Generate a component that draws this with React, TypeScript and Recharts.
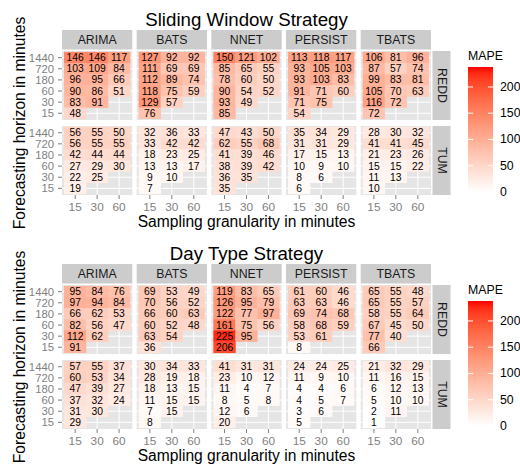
import React from 'react';
import { ScatterChart, Scatter, XAxis, YAxis, ReferenceArea, ReferenceLine } from 'recharts';

// ---------- categories ----------
const methods = ['ARIMA', 'BATS', 'NNET', 'PERSIST', 'TBATS'];
const datasets = ['REDD', 'TUM'];
const horizons = [1440, 720, 180, 60, 30, 15]; // top to bottom
const granularities = [15, 30, 60];
const legendTicks = [0, 50, 100, 150, 200];

// ---------- Sliding Window Strategy (MAPE) ----------
// rows: horizon 1440, 720, 180, 60, 30, 15 ; columns: granularity 15, 30, 60
const swReddArima = [[146, 146, 117], [103, 109, 84], [96, 95, 66], [90, 86, 51], [83, 91], [48]];
const swReddBats = [[127, 92, 92], [111, 69, 69], [112, 89, 74], [118, 75, 59], [129, 57], [76]];
const swReddNnet = [[150, 121, 102], [85, 65, 55], [78, 60, 50], [90, 54, 52], [93, 49], [85]];
const swReddPersist = [[113, 118, 117], [93, 105, 103], [93, 103, 83], [91, 71, 60], [71, 75], [54]];
const swReddTbats = [[106, 81, 96], [87, 57, 74], [99, 83, 81], [105, 70, 63], [116, 72], [72]];

const swTumArima = [[56, 55, 50], [56, 55, 55], [42, 44, 44], [27, 29, 30], [22, 25], [19]];
const swTumBats = [[32, 36, 33], [33, 42, 42], [18, 23, 25], [13, 13, 17], [9, 10], [7]];
const swTumNnet = [[47, 43, 50], [62, 55, 68], [41, 39, 46], [38, 39, 42], [36, 35], [35]];
const swTumPersist = [[35, 34, 29], [31, 31, 29], [17, 15, 13], [10, 9, 10], [8, 6], [6]];
const swTumTbats = [[28, 30, 32], [41, 41, 45], [21, 23, 26], [15, 15, 22], [11, 13], [10]];

// ---------- Day Type Strategy (MAPE) ----------
const dtReddArima = [[95, 84, 76], [97, 94, 84], [66, 62, 53], [82, 56, 47], [112, 62], [91]];
const dtReddBats = [[69, 53, 49], [70, 56, 52], [66, 60, 63], [60, 52, 48], [63, 54], [36]];
const dtReddNnet = [[119, 83, 65], [126, 95, 79], [122, 77, 97], [161, 75, 56], [225, 95], [206]];
const dtReddPersist = [[61, 60, 46], [63, 63, 46], [69, 74, 68], [58, 68, 59], [53, 61], [8]];
const dtReddTbats = [[65, 55, 48], [65, 55, 57], [58, 55, 64], [67, 45, 50], [77, 40], [66]];

const dtTumArima = [[57, 55, 37], [60, 53, 34], [47, 39, 27], [37, 32, 24], [31, 30], [29]];
const dtTumBats = [[30, 34, 33], [28, 19, 18], [18, 13, 15], [11, 15, 15], [7, 15], [8]];
const dtTumNnet = [[41, 31, 31], [23, 10, 12], [11, 4, 7], [8, 5, 8], [12, 6], [20]];
const dtTumPersist = [[24, 24, 25], [11, 9, 10], [4, 4, 6], [4, 5, 7], [3, 6], [5]];
const dtTumTbats = [[21, 32, 29], [11, 16, 15], [6, 12, 13], [5, 10, 10], [2, 11], [1]];

const FILL_MAX = 238;

// ---------- layout ----------
const FONT = '"Liberation Sans", Arial, Helvetica, sans-serif';
const W = 520;
const H = 234;
const PLOT_LEFT = 62;
const PLOT_RIGHT = 431;
const PLOT_TOP = 51;
const PLOT_BOTTOM = 195;
const X_MIN = 0.4;
const FACET_PITCH = 3.4;
const X_MAX = 0.4 + 4 * FACET_PITCH + 3.2;
const ROW_OFF = 6.75;
const Y_MIN = 0.4;
const Y_MAX = ROW_OFF + 6.6;
const CW = (PLOT_RIGHT - PLOT_LEFT) / (X_MAX - X_MIN);
const CH = (PLOT_BOTTOM - PLOT_TOP) / (Y_MAX - Y_MIN);
const xPx = (v: number) => PLOT_LEFT + (v - X_MIN) * CW;
const yPx = (v: number) => PLOT_TOP + (Y_MAX - v) * CH;

// ---------- colour (Lab interpolation white -> red) ----------
const toLin = (c: number) => { c /= 255; return c <= 0.04045 ? c / 12.92 : Math.pow((c + 0.055) / 1.055, 2.4); };
const fromLin = (c: number) => {
  const v = c <= 0.0031308 ? 12.92 * c : 1.055 * Math.pow(c, 1 / 2.4) - 0.055;
  return Math.round(Math.max(0, Math.min(1, v)) * 255);
};
const fLab = (t: number) => (t > 0.008856 ? Math.cbrt(t) : 7.787 * t + 16 / 116);
const fInv = (t: number) => (t * t * t > 0.008856 ? t * t * t : (t - 16 / 116) / 7.787);
function rgbToLab(r: number, g: number, b: number) {
  const R = toLin(r), G = toLin(g), B = toLin(b);
  const X = (0.4124 * R + 0.3576 * G + 0.1805 * B) / 0.95047;
  const Y = 0.2126 * R + 0.7152 * G + 0.0722 * B;
  const Z = (0.0193 * R + 0.1192 * G + 0.9505 * B) / 1.08883;
  return [116 * fLab(Y) - 16, 500 * (fLab(X) - fLab(Y)), 200 * (fLab(Y) - fLab(Z))];
}
function labToHex(L: number, a: number, b: number) {
  const fy = (L + 16) / 116;
  const X = 0.95047 * fInv(fy + a / 500);
  const Y = fInv(fy);
  const Z = 1.08883 * fInv(fy - b / 200);
  const r = fromLin(3.2406 * X - 1.5372 * Y - 0.4986 * Z);
  const g = fromLin(-0.9689 * X + 1.8758 * Y + 0.0415 * Z);
  const bb = fromLin(0.0557 * X - 0.204 * Y + 1.057 * Z);
  return '#' + [r, g, bb].map((n) => n.toString(16).padStart(2, '0')).join('');
}
const LOW = rgbToLab(255, 255, 255);
const HIGH = rgbToLab(255, 0, 0);
function fillAt(t: number) {
  const u = Math.max(0, Math.min(1, t));
  return labToHex(LOW[0] + (HIGH[0] - LOW[0]) * u, LOW[1] + (HIGH[1] - LOW[1]) * u, LOW[2] + (HIGH[2] - LOW[2]) * u);
}
const fillFor = (v: number) => fillAt(v / FILL_MAX);

// ---------- ticks ----------
const xTicks: number[] = [];
const xTickLabels: string[] = [];
methods.forEach((_, f) => granularities.forEach((g, c) => { xTicks.push(f * FACET_PITCH + c + 1); xTickLabels.push(String(g)); }));
const yTicks: number[] = [];
const yTickLabels: string[] = [];
datasets.forEach((_, d) => horizons.forEach((h, i) => { yTicks.push(6 - i + (d === 0 ? ROW_OFF : 0)); yTickLabels.push(String(h)); }));
const lookup = (ticks: number[], labels: string[]) => (v: number) => {
  const i = ticks.findIndex((t) => Math.abs(t - v) < 1e-6);
  return i >= 0 ? labels[i] : '';
};

type Grid = number[][];
function buildTiles(redd: Grid[], tum: Grid[]) {
  const out: { x: number; y: number; v: number }[] = [];
  [redd, tum].forEach((sets, d) => {
    sets.forEach((grid, f) => {
      grid.forEach((row, h) => {
        row.forEach((v, c) => {
          out.push({ x: f * FACET_PITCH + c + 1, y: 6 - h + (d === 0 ? ROW_OFF : 0), v });
        });
      });
    });
  });
  return out;
}

const TileShape = (props: any) => {
  const { cx, cy, payload } = props;
  if (cx == null || cy == null || !payload) return <g />;
  return (
    <g>
      <rect x={cx - CW / 2 - 0.2} y={cy - CH / 2 - 0.2} width={CW + 0.4} height={CH + 0.4} fill={fillFor(payload.v)} />
      <text x={cx} y={cy} textAnchor="middle" dominantBaseline="central" fontSize={10.3} fill="#000" fontFamily={FONT}>
        {payload.v}
      </text>
    </g>
  );
};

function StrategyChart({ title, redd, tum, gid }: { title: string; redd: Grid[]; tum: Grid[]; gid: string }) {
  const tiles = buildTiles(redd, tum);
  const panelRows = [
    { y1: ROW_OFF + 0.4, y2: Y_MAX, label: datasets[0] },
    { y1: Y_MIN, y2: 6.6, label: datasets[1] },
  ];
  const barTop = 67;
  const barBottom = 192;
  const stops = Array.from({ length: 21 }, (_, i) => i / 20);
  return (
    <div style={{ position: 'relative', width: W, height: H }}>
      <div style={{ position: 'absolute', left: 0, top: 0 }}>
        <ScatterChart width={W} height={H} margin={{ top: PLOT_TOP, right: W - PLOT_RIGHT, bottom: H - PLOT_BOTTOM - 24, left: 0 }}>
          <XAxis
            type="number"
            dataKey="x"
            domain={[X_MIN, X_MAX]}
            allowDataOverflow
            ticks={xTicks}
            interval={0}
            tickFormatter={lookup(xTicks, xTickLabels)}
            axisLine={false}
            tickLine={{ stroke: '#7F7F7F' }}
            tickSize={4}
            tickMargin={4}
            height={24}
            tick={{ fontSize: 11.8, fill: '#7F7F7F', fontFamily: FONT }}
          />
          <YAxis
            type="number"
            dataKey="y"
            domain={[Y_MIN, Y_MAX]}
            allowDataOverflow
            ticks={yTicks}
            interval={0}
            tickFormatter={lookup(yTicks, yTickLabels)}
            axisLine={false}
            tickLine={{ stroke: '#7F7F7F' }}
            tickSize={4}
            tickMargin={4}
            width={PLOT_LEFT}
            tick={{ fontSize: 11.3, fill: '#7F7F7F', fontFamily: FONT }}
          />
          {panelRows.map((pr) =>
            methods.map((m, f) => (
              <ReferenceArea
                key={`bg-${pr.label}-${m}`}
                x1={f * FACET_PITCH + 0.4}
                x2={f * FACET_PITCH + 3.6}
                y1={pr.y1}
                y2={pr.y2}
                fill="#E5E5E5"
                fillOpacity={1}
                stroke="none"
                ifOverflow="visible"
              />
            ))
          )}
          {xTicks.map((t) => (
            <ReferenceLine key={`gx-${t}`} x={t} stroke="#FFFFFF" strokeWidth={1} />
          ))}
          {yTicks.map((t) => (
            <ReferenceLine key={`gy-${t}`} y={t} stroke="#FFFFFF" strokeWidth={1} />
          ))}
          <Scatter data={tiles} isAnimationActive={false} shape={TileShape} />
        </ScatterChart>
      </div>
      <svg width={W} height={H} style={{ position: 'absolute', left: 0, top: 0, pointerEvents: 'none' }} fontFamily={FONT}>
        <defs>
          <linearGradient id={gid} x1="0" y1="1" x2="0" y2="0">
            {stops.map((s) => (
              <stop key={s} offset={s} stopColor={fillAt(s)} />
            ))}
          </linearGradient>
        </defs>
        <text x={(PLOT_LEFT + PLOT_RIGHT) / 2} y={26} textAnchor="middle" fontSize={18.7} fill="#000">
          {title}
        </text>
        {methods.map((m, f) => {
          const x1 = xPx(f * FACET_PITCH + 0.4);
          const x2 = xPx(f * FACET_PITCH + 3.6);
          return (
            <g key={`strip-${m}`}>
              <rect x={x1} y={30} width={x2 - x1} height={19.5} fill="#CCCCCC" />
              <text x={(x1 + x2) / 2} y={39.75} textAnchor="middle" dominantBaseline="central" fontSize={12.3} fill="#1A1A1A">
                {m}
              </text>
            </g>
          );
        })}
        {panelRows.map((pr) => {
          const top = yPx(pr.y2);
          const bottom = yPx(pr.y1);
          const cx = PLOT_RIGHT + 1.5 + 9;
          const cy = (top + bottom) / 2;
          return (
            <g key={`rstrip-${pr.label}`}>
              <rect x={PLOT_RIGHT + 1.5} y={top} width={18} height={bottom - top} fill="#CCCCCC" />
              <text x={cx} y={cy} textAnchor="middle" dominantBaseline="central" fontSize={12.3} fill="#1A1A1A" transform={`rotate(90 ${cx} ${cy})`}>
                {pr.label}
              </text>
            </g>
          );
        })}
        <text
          x={19}
          y={(PLOT_TOP + PLOT_BOTTOM) / 2}
          textAnchor="middle"
          dominantBaseline="central"
          fontSize={15.6}
          fill="#000"
          transform={`rotate(-90 19 ${(PLOT_TOP + PLOT_BOTTOM) / 2})`}
        >
          Forecasting horizon in minutes
        </text>
        <text x={(PLOT_LEFT + PLOT_RIGHT) / 2} y={227} textAnchor="middle" fontSize={15.6} fill="#000">
          Sampling granularity in minutes
        </text>
        <text x={468} y={60} fontSize={12.3} fill="#000">MAPE</text>
        <rect x={468} y={barTop} width={25} height={barBottom - barTop} fill={`url(#${gid})`} />
        {legendTicks.map((v) => {
          const y = barBottom - (v / FILL_MAX) * (barBottom - barTop);
          return (
            <g key={`lt-${v}`}>
              <line x1={468} x2={473} y1={y} y2={y} stroke="#FFFFFF" strokeWidth={1} />
              <line x1={488} x2={493} y1={y} y2={y} stroke="#FFFFFF" strokeWidth={1} />
              <text x={500} y={y} dominantBaseline="central" fontSize={12.3} fill="#000">
                {v}
              </text>
            </g>
          );
        })}
      </svg>
    </div>
  );
}

export default function App() {
  return (
    <div style={{ position: 'absolute', left: 0, top: 0, width: W, height: 466, background: '#fff', overflow: 'hidden' }}>
      <StrategyChart
        gid="gradSW"
        title="Sliding Window Strategy"
        redd={[swReddArima, swReddBats, swReddNnet, swReddPersist, swReddTbats]}
        tum={[swTumArima, swTumBats, swTumNnet, swTumPersist, swTumTbats]}
      />
      <StrategyChart
        gid="gradDT"
        title="Day Type Strategy"
        redd={[dtReddArima, dtReddBats, dtReddNnet, dtReddPersist, dtReddTbats]}
        tum={[dtTumArima, dtTumBats, dtTumNnet, dtTumPersist, dtTumTbats]}
      />
    </div>
  );
}
